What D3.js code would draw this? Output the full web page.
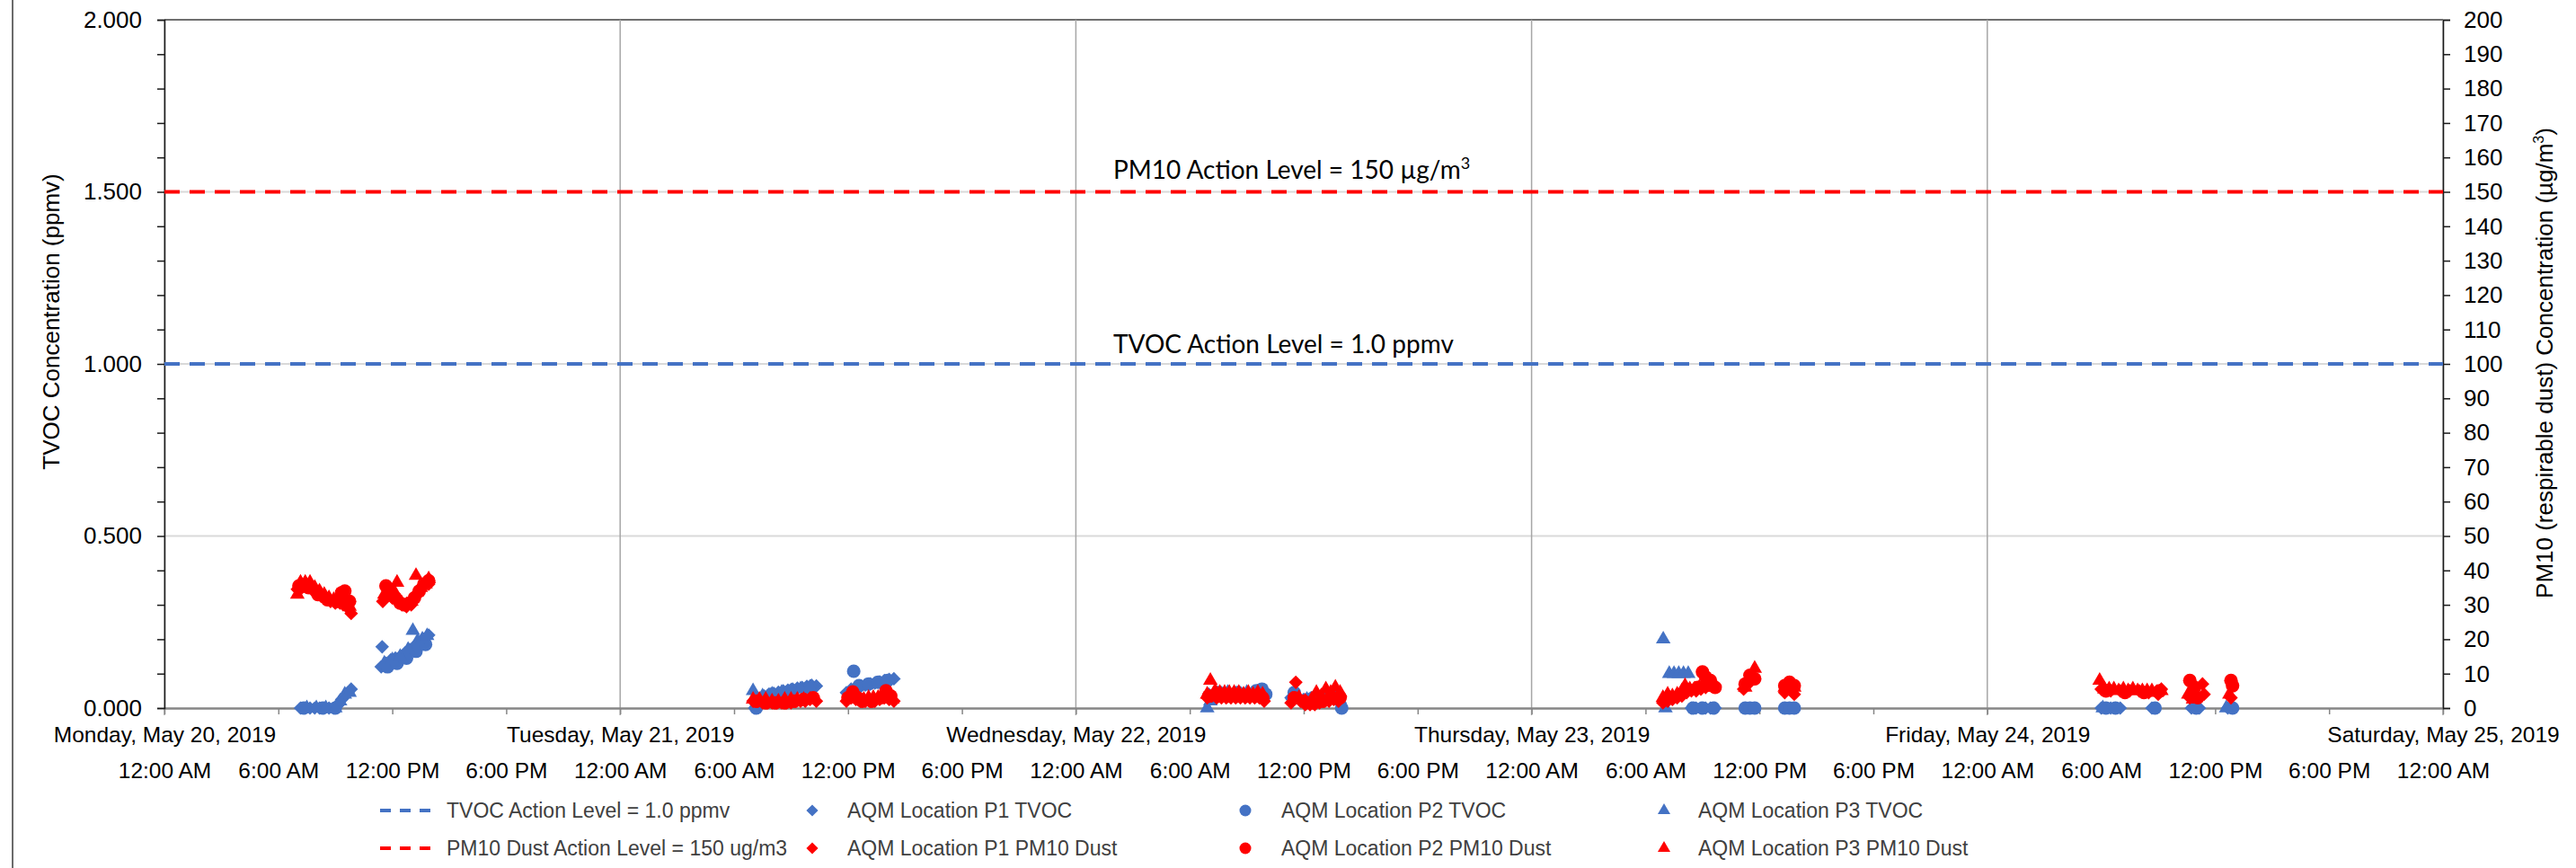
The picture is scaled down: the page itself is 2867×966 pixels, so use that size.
<!DOCTYPE html>
<html>
<head>
<meta charset="utf-8">
<script src="https://cdn.jsdelivr.net/npm/d3@7"></script>
<style>
  body { margin: 0; background: #fff; }
  svg { display: block; font-family: 'Liberation Sans', Arial, sans-serif; }
</style>
</head>
<body>
<div id="chart"></div>
<script>
// readings: ['day hh:mm', value]  (May 2019)
const P1_TVOC = [
  ['20 07:10', 0], ['20 07:25', 0], ['20 07:40', 0], ['20 07:55', 0], ['20 08:10', 0], ['20 08:25', 0],
  ['20 08:40', 0], ['20 08:55', 0], ['20 09:10', 0.01], ['20 09:20', 0.025], ['20 09:30', 0.035], ['20 09:40', 0.045], ['20 09:50', 0.055],
  ['20 11:25', 0.12], ['20 11:28', 0.178], ['20 11:40', 0.13], ['20 11:55', 0.14], ['20 12:10', 0.145], ['20 12:25', 0.15],
  ['20 12:40', 0.16], ['20 12:55', 0.17], ['20 13:10', 0.18], ['20 13:25', 0.19], ['20 13:40', 0.2], ['20 13:55', 0.212],
  ['21 07:05', 0], ['21 07:20', 0.02], ['21 07:35', 0.035], ['21 07:50', 0.04], ['21 08:05', 0.043], ['21 08:20', 0.046],
  ['21 08:35', 0.05], ['21 08:50', 0.052], ['21 09:05', 0.055], ['21 09:20', 0.058], ['21 09:35', 0.06], ['21 09:50', 0.063],
  ['21 10:05', 0.066], ['21 10:20', 0.064],
  ['21 11:55', 0.045], ['21 12:10', 0.055], ['21 12:25', 0.06], ['21 12:40', 0.063], ['21 12:55', 0.067], ['21 13:10', 0.07],
  ['21 13:25', 0.073], ['21 13:40', 0.076], ['21 13:55', 0.08], ['21 14:10', 0.083], ['21 14:25', 0.085],
  ['22 07:00', 0.04], ['22 07:20', 0.045], ['22 07:40', 0.045], ['22 08:00', 0.045], ['22 08:20', 0.045], ['22 08:40', 0.045],
  ['22 09:00', 0.045], ['22 09:20', 0.045], ['22 09:40', 0.05],
  ['22 11:20', 0.03], ['22 11:40', 0.03], ['22 12:00', 0.025], ['22 12:20', 0.025], ['22 12:40', 0.03], ['22 13:00', 0.03],
  ['22 13:20', 0.035], ['22 13:40', 0.04], ['22 13:55', 0.015],
  ['23 08:25', 0], ['23 08:40', 0], ['23 08:55', 0], ['23 09:10', 0], ['23 09:25', 0], ['23 09:40', 0],
  ['24 06:00', 0], ['24 06:30', 0], ['24 07:00', 0], ['24 08:40', 0], ['24 10:45', 0], ['24 11:10', 0], ['24 12:40', 0]
]
const P2_TVOC = [
  ['20 07:20', 0], ['20 08:20', 0], ['20 09:00', 0],
  ['20 11:45', 0.12], ['20 12:15', 0.13], ['20 12:45', 0.145], ['20 13:15', 0.165], ['20 13:45', 0.185],
  ['21 07:10', 0], ['21 08:00', 0.04], ['21 09:00', 0.05], ['21 10:00', 0.06],
  ['21 12:18', 0.107], ['21 12:35', 0.065], ['21 13:05', 0.07], ['21 13:35', 0.075], ['21 14:05', 0.08],
  ['22 07:30', 0.045], ['22 08:30', 0.045], ['22 09:30', 0.05], ['22 09:48', 0.055], ['22 10:00', 0.04],
  ['22 11:30', 0.045], ['22 12:30', 0.03], ['22 13:30', 0.035], ['22 14:00', 0],
  ['23 08:30', 0], ['23 09:00', 0], ['23 09:35', 0], ['23 11:15', 0], ['23 11:30', 0], ['23 11:45', 0],
  ['23 13:20', 0], ['23 13:35', 0], ['23 13:50', 0],
  ['24 06:15', 0], ['24 06:45', 0], ['24 08:50', 0], ['24 11:00', 0], ['24 12:55', 0]
]
const P3_TVOC = [
  ['20 07:30', 0], ['20 08:00', 0], ['20 08:30', 0], ['20 09:00', 0], ['20 09:15', 0.02], ['20 09:30', 0.04], ['20 09:45', 0.045],
  ['20 11:35', 0.13], ['20 12:00', 0.14], ['20 12:25', 0.15], ['20 12:50', 0.17], ['20 13:05', 0.225], ['20 13:20', 0.195],
  ['20 13:35', 0.2], ['20 13:50', 0.21],
  ['21 07:00', 0.05], ['21 07:30', 0.035], ['21 08:00', 0.04], ['21 08:30', 0.045], ['21 09:00', 0.05], ['21 09:30', 0.055], ['21 10:00', 0.06],
  ['22 06:55', 0], ['22 07:05', 0.02], ['22 07:20', 0.04], ['22 08:00', 0.045], ['22 09:00', 0.045],
  ['22 11:25', 0.035], ['22 12:10', 0.025], ['22 13:10', 0.03], ['22 13:50', 0.03],
  ['23 06:56', 0.2], ['23 07:03', 0], ['23 07:15', 0.1], ['23 07:30', 0.1], ['23 07:45', 0.1], ['23 08:00', 0.1], ['23 08:15', 0.1],
  ['24 06:05', 0], ['24 12:35', 0]
]
const P1_PM10 = [
  ['20 07:00', 34.5], ['20 07:15', 35], ['20 07:30', 35.5], ['20 07:45', 34.5], ['20 08:00', 33.5], ['20 08:15', 32.5],
  ['20 08:30', 32], ['20 08:45', 31], ['20 09:00', 30.5], ['20 09:15', 30.5], ['20 09:25', 30], ['20 09:35', 29.5], ['20 09:50', 27.5],
  ['20 11:30', 31], ['20 11:45', 33], ['20 12:00', 32], ['20 12:15', 31], ['20 12:30', 30], ['20 12:45', 29.5], ['20 13:00', 30],
  ['20 13:15', 33], ['20 13:30', 35], ['20 13:45', 36.5], ['20 13:55', 36],
  ['21 07:00', 2], ['21 07:15', 2], ['21 07:30', 1.5], ['21 07:45', 1.5], ['21 08:00', 1.5], ['21 08:15', 1.5], ['21 08:30', 1.5],
  ['21 08:45', 1.5], ['21 09:00', 1.5], ['21 09:15', 2], ['21 09:30', 2], ['21 09:45', 2], ['21 10:00', 2.5], ['21 10:20', 2],
  ['21 11:55', 2], ['21 12:10', 3], ['21 12:25', 2.5], ['21 12:40', 2], ['21 12:55', 2], ['21 13:10', 2], ['21 13:25', 2],
  ['21 13:40', 2.5], ['21 13:55', 3], ['21 14:10', 2.5], ['21 14:25', 2],
  ['22 06:55', 3], ['22 07:10', 3.5], ['22 07:25', 3], ['22 07:40', 3], ['22 07:55', 3], ['22 08:10', 3], ['22 08:25', 3],
  ['22 08:40', 3], ['22 08:55', 3], ['22 09:10', 3], ['22 09:25', 3], ['22 09:40', 3], ['22 09:55', 2],
  ['22 11:20', 1.5], ['22 11:35', 7.5], ['22 11:50', 2], ['22 12:05', 1], ['22 12:20', 1], ['22 12:35', 1], ['22 12:50', 1.5],
  ['22 13:05', 2], ['22 13:20', 2], ['22 13:35', 2.5], ['22 13:50', 2],
  ['23 06:55', 1.5], ['23 07:10', 2], ['23 07:25', 2.5], ['23 07:40', 3], ['23 07:55', 3.5], ['23 08:10', 4.5], ['23 08:25', 5],
  ['23 08:40', 5], ['23 08:55', 5.5], ['23 09:10', 6], ['23 09:25', 7.5], ['23 09:40', 6.5],
  ['23 11:10', 5.5], ['23 11:25', 7], ['23 11:40', 9], ['23 13:20', 4.5], ['23 13:35', 5.5], ['23 13:50', 4],
  ['24 06:00', 5.5], ['24 06:30', 5], ['24 07:00', 5], ['24 07:30', 5], ['24 08:00', 5], ['24 08:30', 4.5], ['24 09:00', 4], ['24 09:10', 5.5],
  ['24 10:40', 3], ['24 11:20', 7], ['24 11:25', 4], ['24 12:50', 3]
]
const P2_PM10 = [
  ['20 07:05', 35.5], ['20 07:35', 35], ['20 08:05', 33], ['20 08:35', 31.5], ['20 09:05', 31], ['20 09:20', 33.5], ['20 09:30', 34], ['20 09:45', 31],
  ['20 11:40', 35.5], ['20 11:55', 34], ['20 12:10', 32], ['20 12:25', 30.5], ['20 12:40', 30], ['20 12:55', 30.5],
  ['20 13:10', 32], ['20 13:25', 34], ['20 13:40', 36], ['20 13:55', 37],
  ['21 07:10', 2], ['21 07:40', 1.5], ['21 08:10', 1.5], ['21 08:40', 1.5], ['21 09:10', 2], ['21 09:40', 2.5], ['21 10:10', 3],
  ['21 12:00', 3], ['21 12:15', 4.7], ['21 12:30', 3], ['21 12:45', 2], ['21 13:15', 2], ['21 13:45', 3], ['21 14:00', 5], ['21 14:15', 3.5],
  ['22 07:00', 3.5], ['22 07:30', 3.5], ['22 08:00', 3.5], ['22 08:30', 3.5], ['22 09:00', 3.5], ['22 09:30', 3.5], ['22 09:50', 3],
  ['22 11:30', 3], ['22 12:00', 2], ['22 12:30', 1.5], ['22 13:00', 2], ['22 13:30', 3], ['22 13:55', 3],
  ['23 08:45', 6], ['23 09:00', 10.5], ['23 09:10', 9], ['23 09:25', 8], ['23 09:40', 6],
  ['23 11:15', 7], ['23 11:30', 9.5], ['23 11:45', 8.5], ['23 13:20', 6.5], ['23 13:35', 7.5], ['23 13:50', 6.5],
  ['24 06:15', 5], ['24 07:15', 4.5], ['24 08:15', 4.5], ['24 09:05', 5],
  ['24 10:40', 8], ['24 10:55', 6], ['24 11:05', 3], ['24 12:50', 8], ['24 12:55', 6.5]
]
const P3_PM10 = [
  ['20 07:00', 33], ['20 07:10', 36.5], ['20 07:25', 36.5], ['20 07:40', 36.5], ['20 07:55', 35], ['20 08:10', 34], ['20 08:25', 33],
  ['20 08:40', 32], ['20 08:55', 31.5], ['20 09:10', 31], ['20 09:25', 31], ['20 09:35', 30.5], ['20 09:45', 29.5],
  ['20 11:35', 33], ['20 11:50', 34], ['20 12:05', 34], ['20 12:15', 36.5], ['20 12:30', 30.5], ['20 12:45', 30], ['20 13:00', 31],
  ['20 13:15', 38.5], ['20 13:30', 35], ['20 13:45', 36], ['20 13:55', 37.5],
  ['21 07:00', 2.5], ['21 07:20', 2.5], ['21 07:40', 2.5], ['21 08:00', 2], ['21 08:20', 2], ['21 08:40', 2.5], ['21 09:00', 2.5],
  ['21 09:20', 2.5], ['21 09:40', 2.5], ['21 10:00', 2.5],
  ['21 12:05', 3.5], ['21 12:20', 3.5], ['21 12:35', 2.5], ['21 12:50', 2.5], ['21 13:05', 3], ['21 13:20', 3], ['21 13:35', 3],
  ['21 13:50', 3.5], ['21 14:05', 3.5], ['21 14:20', 2.5],
  ['22 06:55', 4], ['22 07:05', 8], ['22 07:20', 5], ['22 07:35', 4.5], ['22 07:50', 4.5], ['22 08:05', 4.5], ['22 08:20', 4.5],
  ['22 08:35', 4.5], ['22 08:50', 4], ['22 09:05', 4.5], ['22 09:20', 4], ['22 09:35', 4.5], ['22 09:50', 4],
  ['22 11:25', 2.5], ['22 11:45', 3], ['22 12:05', 2], ['22 12:25', 2.5], ['22 12:40', 4.5], ['22 12:55', 3.5], ['22 13:10', 5.5],
  ['22 13:25', 4.5], ['22 13:40', 6], ['22 13:55', 4.5],
  ['23 06:55', 3], ['23 07:10', 4], ['23 07:25', 3.5], ['23 07:40', 4], ['23 07:55', 5], ['23 08:05', 6.5], ['23 08:20', 5.5],
  ['23 08:35', 5.5], ['23 08:50', 6], ['23 09:05', 6], ['23 09:20', 7], ['23 09:35', 6],
  ['23 11:15', 6], ['23 11:30', 8], ['23 11:45', 11.5], ['23 13:20', 6], ['23 13:35', 7], ['23 13:50', 6],
  ['24 05:55', 8], ['24 06:10', 5.5], ['24 06:25', 5.5], ['24 06:40', 5.5], ['24 06:55', 5], ['24 07:10', 5.5], ['24 07:25', 5],
  ['24 07:40', 5.5], ['24 07:55', 5], ['24 08:10', 5], ['24 08:25', 5], ['24 08:40', 5], ['24 08:55', 4.5], ['24 09:10', 5],
  ['24 10:35', 4], ['24 10:50', 2.5], ['24 12:45', 4]
]

const TVOC_ACTION = 1.0
const PM10_ACTION = 150
const X_DOMAIN = ['20 00:00', '25 00:00']
const LEFT_LABELS = [0, 0.5, 1.0, 1.5, 2.0]
const RIGHT_DOMAIN = [0, 200]

const BLUE = '#4472c4'
const RED = '#ff0000'

const W = 2867, H = 966
const PLOT = { left: 183, right: 2719, top: 22, bottom: 788 }

const parse = (s) => d3.timeParse('%Y-%m-%d %H:%M')('2019-05-' + s)

let x = d3.scaleTime()
  .domain(X_DOMAIN.map(parse))
  .range([PLOT.left, PLOT.right])
let yL = d3.scaleLinear().domain([0, 2]).range([PLOT.bottom, PLOT.top])
let yR = d3.scaleLinear().domain(RIGHT_DOMAIN).range([PLOT.bottom, PLOT.top])

let svg = d3.select('#chart').append('svg')
  .attr('width', W)
  .attr('height', H)

// chart frame edge (left side visible)
svg.append('line')
  .attr('x1', 14).attr('x2', 14).attr('y1', 0).attr('y2', H)
  .attr('stroke', '#3a3a3a').attr('stroke-width', 1.5)

// horizontal gridlines
svg.append('g')
  .selectAll('line')
  .data(LEFT_LABELS.slice(1))
  .enter().append('line')
    .attr('x1', PLOT.left).attr('x2', PLOT.right)
    .attr('y1', (d) => yL(d)).attr('y2', (d) => yL(d))
    .attr('stroke', (d) => d === 2 ? '#6f6f6f' : '#d9d9d9')
    .attr('stroke-width', 2)

// day gridlines
svg.append('g')
  .selectAll('line')
  .data(x.ticks(d3.timeDay.every(1)))
  .enter().append('line')
    .attr('x1', (d) => x(d)).attr('x2', (d) => x(d))
    .attr('y1', PLOT.top).attr('y2', PLOT.bottom + 8)
    .attr('stroke', '#a6a6a6')
    .attr('stroke-width', 1.5)

// x axis (6 hour ticks)
let xAxis = d3.axisBottom(x)
  .ticks(d3.timeHour.every(6))
  .tickFormat(d3.timeFormat('%-I:%M %p'))
  .tickSizeInner(7)
  .tickSizeOuter(0)

svg.append('g')
  .attr('transform', 'translate(0,' + PLOT.bottom + ')')
  .call(xAxis)
  .call((g) => g.select('.domain').attr('stroke', '#868686').attr('stroke-width', 2.5))
  .call((g) => g.selectAll('.tick line').attr('stroke', '#868686').attr('stroke-width', 1.5))
  .call((g) => g.selectAll('.tick text')
    .attr('y', 78).attr('dy', 0)
    .attr('fill', '#000')
    .style('font-size', '24.5px')
    .style('font-family', "'Liberation Sans', Arial, sans-serif"))

// day labels
let dayAxis = d3.axisBottom(x)
  .ticks(d3.timeDay.every(1))
  .tickFormat(d3.timeFormat('%A, %B %-d, %Y'))
  .tickSize(0)

svg.append('g')
  .attr('transform', 'translate(0,' + PLOT.bottom + ')')
  .call(dayAxis)
  .call((g) => g.select('.domain').remove())
  .call((g) => g.selectAll('.tick text')
    .attr('y', 38).attr('dy', 0)
    .attr('fill', '#000')
    .style('font-size', '24.5px')
    .style('font-family', "'Liberation Sans', Arial, sans-serif"))

// left axis
let fmtL = d3.format('.3f')
let leftAxis = d3.axisLeft(yL)
  .tickValues(yL.ticks(20))
  .tickFormat((d) => LEFT_LABELS.some((v) => Math.abs(v - d) < 1e-9) ? fmtL(d) : '')
  .tickSize(8)
  .tickPadding(17)

svg.append('g')
  .attr('transform', 'translate(' + PLOT.left + ',0)')
  .call(leftAxis)
  .call((g) => g.select('.domain').attr('stroke', '#1a1a1a').attr('stroke-width', 1.5))
  .call((g) => g.selectAll('.tick line').attr('stroke', '#1a1a1a').attr('stroke-width', 1.5))
  .call((g) => g.selectAll('.tick text')
    .attr('fill', '#000')
    .style('font-size', '26px')
    .style('font-family', "'Liberation Sans', Arial, sans-serif"))

// right axis
let rightAxis = d3.axisRight(yR)
  .tickValues(yR.ticks(20))
  .tickFormat(d3.format('d'))
  .tickSize(8)
  .tickPadding(15)

svg.append('g')
  .attr('transform', 'translate(' + PLOT.right + ',0)')
  .call(rightAxis)
  .call((g) => g.select('.domain').attr('stroke', '#1a1a1a').attr('stroke-width', 1.5))
  .call((g) => g.selectAll('.tick line').attr('stroke', '#1a1a1a').attr('stroke-width', 1.5))
  .call((g) => g.selectAll('.tick text')
    .attr('fill', '#000')
    .style('font-size', '26px')
    .style('font-family', "'Liberation Sans', Arial, sans-serif"))

// axis titles
svg.append('text')
  .attr('transform', 'translate(66,358) rotate(-90)')
  .attr('text-anchor', 'middle')
  .style('font-size', '26px')
  .text('TVOC Concentration (ppmv)')

let rt = svg.append('text')
  .attr('transform', 'translate(2841,404) rotate(-90)')
  .attr('text-anchor', 'middle')
  .style('font-size', '26px')
rt.append('tspan').text('PM10 (respirable dust) Concentration (µg/m')
rt.append('tspan').attr('dy', -10).style('font-size', '16px').text('3')
rt.append('tspan').attr('dy', 10).text(')')

// action level lines
let actionLine = (yScale, v) => d3.line()
  .x((d) => x(d))
  .y(() => yScale(v))(x.domain())

svg.append('path')
  .attr('d', actionLine(yL, TVOC_ACTION))
  .attr('fill', 'none')
  .attr('stroke', BLUE)
  .attr('stroke-width', 4)
  .attr('stroke-dasharray', '17,11')

svg.append('path')
  .attr('d', actionLine(yR, PM10_ACTION))
  .attr('fill', 'none')
  .attr('stroke', RED)
  .attr('stroke-width', 4)
  .attr('stroke-dasharray', '17,11')

// action level annotations
let ann = svg.append('g')
  .style('font-family', "Lato, 'Open Sans', sans-serif")
  .style('font-size', '28px')
  .attr('fill', '#000')

let a1 = ann.append('text').attr('x', 1239).attr('y', yR(PM10_ACTION) - 15)
a1.append('tspan').text('PM10 Action Level = 150 µg/m')
a1.append('tspan').attr('dy', -11).style('font-size', '18px').text('3')

ann.append('text').attr('x', 1239).attr('y', yL(TVOC_ACTION) - 12)
  .text('TVOC Action Level = 1.0 ppmv')

// markers (plot markers a little larger than legend keys)
const SHAPES = {
  diamond: { type: d3.symbolSquare, size: 86, rotate: 45 },
  circle: { type: d3.symbolCircle, size: 133, rotate: 0 },
  triangle: { type: d3.symbolTriangle, size: 85, rotate: 0 }
}
const PLOT_MARKER_SCALE = 1.35

const SERIES = [
  { name: 'AQM Location P1 TVOC', data: P1_TVOC, axis: yL, color: BLUE, shape: 'diamond' },
  { name: 'AQM Location P2 TVOC', data: P2_TVOC, axis: yL, color: BLUE, shape: 'circle' },
  { name: 'AQM Location P3 TVOC', data: P3_TVOC, axis: yL, color: BLUE, shape: 'triangle' },
  { name: 'AQM Location P1 PM10 Dust', data: P1_PM10, axis: yR, color: RED, shape: 'diamond' },
  { name: 'AQM Location P2 PM10 Dust', data: P2_PM10, axis: yR, color: RED, shape: 'circle' },
  { name: 'AQM Location P3 PM10 Dust', data: P3_PM10, axis: yR, color: RED, shape: 'triangle' }
]

let symbolPath = (shape, k = 1) => d3.symbol().type(SHAPES[shape].type).size(SHAPES[shape].size * k)()

SERIES.forEach((s) => {
  svg.append('g')
    .attr('class', 'series')
    .selectAll('path')
    .data(s.data)
    .enter().append('path')
      .attr('d', symbolPath(s.shape, PLOT_MARKER_SCALE))
      .attr('transform', (d) => 'translate(' + x(parse(d[0])) + ',' + s.axis(d[1]) + ') rotate(' + SHAPES[s.shape].rotate + ')')
      .attr('fill', s.color)
})

// legend
const LEGEND_COLS = [
  { mark: 452, text: 497 },
  { mark: 904, text: 943 },
  { mark: 1386, text: 1426 },
  { mark: 1852, text: 1890 }
]
const LEGEND_ROWS = [902, 944]

const LEGEND_ITEMS = [
  { label: 'TVOC Action Level = 1.0 ppmv', color: BLUE, line: true },
  { label: 'AQM Location P1 TVOC', color: BLUE, shape: 'diamond' },
  { label: 'AQM Location P2 TVOC', color: BLUE, shape: 'circle' },
  { label: 'AQM Location P3 TVOC', color: BLUE, shape: 'triangle' },
  { label: 'PM10 Dust Action Level = 150 ug/m3', color: RED, line: true },
  { label: 'AQM Location P1 PM10 Dust', color: RED, shape: 'diamond' },
  { label: 'AQM Location P2 PM10 Dust', color: RED, shape: 'circle' },
  { label: 'AQM Location P3 PM10 Dust', color: RED, shape: 'triangle' }
]

let legend = svg.append('g').attr('class', 'legend')

let entry = legend.selectAll('.entry')
  .data(LEGEND_ITEMS)
  .enter().append('g')
    .attr('class', 'entry')

entry.filter((d) => d.line)
  .append('line')
    .attr('x1', LEGEND_COLS[0].mark - 29)
    .attr('x2', LEGEND_COLS[0].mark + 30)
    .attr('y1', (d) => LEGEND_ROWS[LEGEND_ITEMS.indexOf(d) < 4 ? 0 : 1])
    .attr('y2', (d) => LEGEND_ROWS[LEGEND_ITEMS.indexOf(d) < 4 ? 0 : 1])
    .attr('stroke', (d) => d.color)
    .attr('stroke-width', 4)
    .attr('stroke-dasharray', '12,10')

entry.filter((d) => !d.line)
  .append('path')
    .attr('d', (d) => symbolPath(d.shape))
    .attr('transform', (d) => {
      let i = LEGEND_ITEMS.indexOf(d)
      return 'translate(' + LEGEND_COLS[i % 4].mark + ',' + LEGEND_ROWS[Math.floor(i / 4)] + ') rotate(' + SHAPES[d.shape].rotate + ')'
    })
    .attr('fill', (d) => d.color)

entry.append('text')
  .attr('x', (d, i) => LEGEND_COLS[i % 4].text)
  .attr('y', (d, i) => LEGEND_ROWS[Math.floor(i / 4)])
  .attr('dy', '0.35em')
  .attr('fill', '#404040')
  .style('font-size', '23px')
  .text((d) => d.label)
</script>
</body>
</html>
